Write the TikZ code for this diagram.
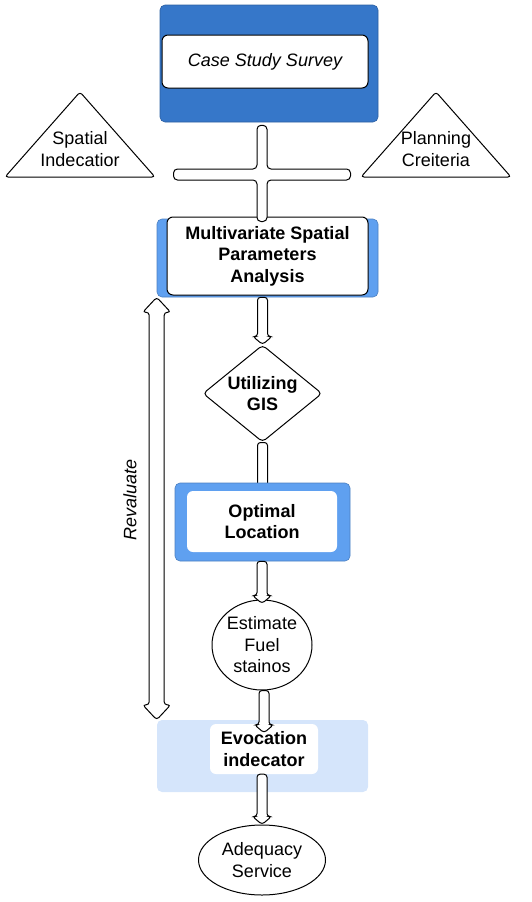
\documentclass[tikz,border=0pt]{standalone}
\usepackage{fontspec}
\setmainfont{Liberation Sans}
\usepackage{tikz}
\usetikzlibrary{calc, shapes.geometric, backgrounds}
\definecolor{topblue}{HTML}{3677C9}
\definecolor{midblue}{HTML}{5FA0F0}
\definecolor{paleblue}{HTML}{D5E5FB}
\newcommand{\basefont}{\fontsize{18}{21.5}\selectfont}
\newcommand{\blockarrow}[2]{%
  \draw[hollow] let \p1=(#1), \p2=(#2) in
    (\x2-5pt,\y1) -- (\x2-5pt,\y2+8pt) -- (\x2-9.5pt,\y2+8pt) -- (\x2,\y2)
    -- (\x2+9.5pt,\y2+8pt) -- (\x2+5pt,\y2+8pt) -- (\x2+5pt,\y1) -- cycle;}

\begin{document}
\begin{tikzpicture}[
    x=1pt, y=-1pt,
    font=\basefont,
    panel/.style={draw=#1!80!black, fill=#1, rounded corners=5pt, line width=0.6pt},
    card/.style={draw, fill=white, rounded corners=6pt, line width=1pt, align=center, inner sep=0pt},
    bare/.style={fill=white, rounded corners=6pt, align=center, inner sep=0pt},
    hollow/.style={draw, fill=white, line width=1pt, rounded corners=3pt},
    tri/.style={draw, line width=1pt, rounded corners=3pt},
    oval/.style={draw, fill=white, ellipse, line width=1pt, align=center, inner sep=0pt},
]
    \useasboundingbox (0,0) rectangle (531,902);

    % Survey block
    \node[panel=topblue, minimum width=218pt, minimum height=117pt] (surveybg) at (269,63.5) {};
    \node[card, minimum width=206pt, minimum height=53pt, font=\basefont\itshape] (survey) at (265,61.5) {Case Study Survey};

    % Side criteria
    \node[align=center] (spatial) at (80,149) {Spatial\\Indecatior};
    \draw[tri] ($(spatial)+(0,-57)$) -- ($(spatial)+(75,28)$) -- ($(spatial)+(-75,28)$) -- cycle;
    \node[align=center] (planning) at (436,149) {Planning\\Creiteria};
    \draw[tri] ($(planning)+(0,-57)$) -- ($(planning)+(75,28)$) -- ($(planning)+(-75,28)$) -- cycle;

    % Analysis
    \node[panel=midblue, minimum width=221pt, minimum height=78pt] (mvbg) at (267.5,258) {};
    \node[card, minimum width=201pt, minimum height=78pt, font=\basefont\bfseries] (mv) at (267.5,256) {Multivariate Spatial\\Parameters\\Analysis};

    \node[diamond, draw, fill=white, line width=1pt, rounded corners=4pt, aspect=1.2, inner sep=0pt,
          minimum width=119pt, minimum height=97pt, align=center, font=\basefont\bfseries] (gis) at (262.5,393.5) {Utilizing\\GIS};

    \node[panel=midblue, minimum width=175pt, minimum height=78pt] (optbg) at (262.5,522) {};
    \node[bare, minimum width=150pt, minimum height=61pt, font=\basefont\bfseries] (opt) at (262,521.5) {Optimal\\Location};

    \node[oval, minimum width=100pt, minimum height=90pt] (fuel) at (262,645) {Estimate\\Fuel\\stainos};

    \node[fill=paleblue, rounded corners=5pt, minimum width=211pt, minimum height=72pt] (evobg) at (262.5,756) {};
    \node[bare, minimum width=108pt, minimum height=50pt, font=\basefont\bfseries] (evo) at (264,749) {Evocation\\indecator};

    \node[oval, minimum width=127pt, minimum height=70pt] (adeq) at (262,860) {Adequacy\\Service};

    \node[rotate=90, font=\basefont\itshape] (reval) at (130,500) {Revaluate};

    % Cross joint
    \coordinate (hub) at (262,174.5);
    \draw[hollow, rounded corners=4pt] let \p1=(surveybg.south), \p2=(mv.north), \p3=(hub) in
        (\x3-5pt,\y1-3pt) -- (\x3+5pt,\y1-3pt) -- (\x3+5pt,\y3+5.5pt) -- (\x3+88.5pt,\y3+5.5pt)
        -- (\x3+88.5pt,\y3-5.5pt) -- (\x3+5pt,\y3-5.5pt) -- (\x3+5pt,\y2-5pt) -- (\x3-5pt,\y2-5pt)
        -- (\x3-5pt,\y3-5.5pt) -- (\x3-88.5pt,\y3-5.5pt) -- (\x3-88.5pt,\y3+5.5pt) -- (\x3-5pt,\y3+5.5pt) -- cycle;

    % Flow arrows
    \blockarrow{mvbg.south}{gis.north}
    \begin{scope}[on background layer]
        \blockarrow{gis.south}{optbg.center}
    \end{scope}
    \blockarrow{optbg.south}{$(fuel.north)+(0,4)$}
    \blockarrow{fuel.south}{$(evo.north)+(0,9)$}
    \blockarrow{evo.south}{adeq.north}

    % Revaluate loop
    \draw[hollow] let \p1=(mvbg.south west), \p2=(evobg.north west) in
        (\x1,\y1) -- (\x1+14pt,\y1-15pt) -- (\x1+7.5pt,\y1-15pt) -- (\x1+7.5pt,\y2+15pt)
        -- (\x1+14pt,\y2+15pt) -- (\x1,\y2) -- (\x1-14pt,\y2+15pt) -- (\x1-7.5pt,\y2+15pt)
        -- (\x1-7.5pt,\y1-15pt) -- (\x1-14pt,\y1-15pt) -- cycle;
\end{tikzpicture}
\end{document}
